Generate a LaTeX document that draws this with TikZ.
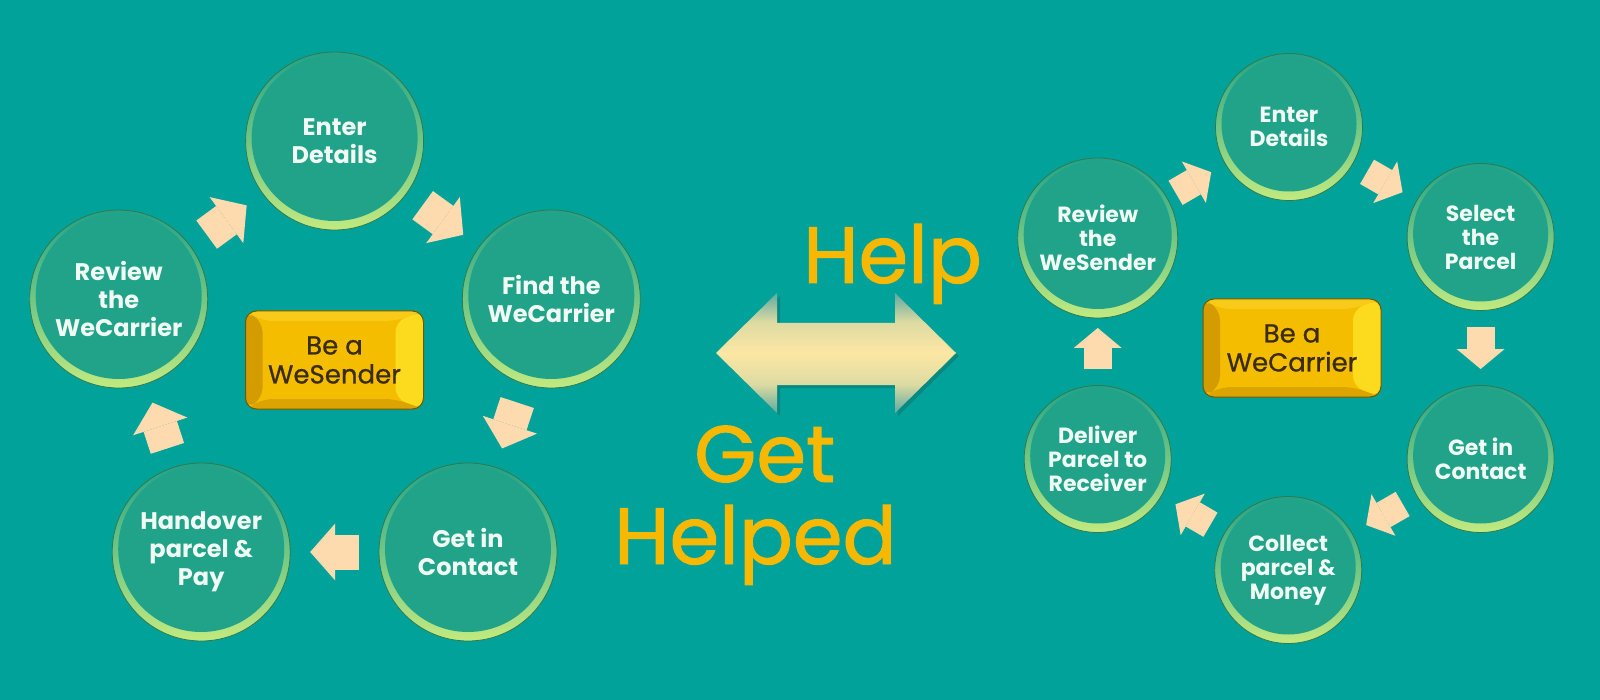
\documentclass[tikz,border=0pt]{standalone}
\usepackage{fontspec}
\setmainfont{Poppins}
\usepackage{xcolor}
\usetikzlibrary{arrows.meta,positioning,calc}
\definecolor{sea}{HTML}{01A29A}
\definecolor{disc}{HTML}{21A389}
\definecolor{rimglow}{HTML}{C2EA80}
\definecolor{rimdark}{HTML}{2F7A4E}
\definecolor{cirtext}{HTML}{F0FBF4}
\definecolor{peach}{HTML}{FDDBAE}
\definecolor{gold}{HTML}{F4BD00}
\definecolor{goldL}{HTML}{D49C00}
\definecolor{goldR}{HTML}{FCDA1E}
\definecolor{goldT}{HTML}{F8CB1A}
\definecolor{goldB}{HTML}{DCA400}
\definecolor{boxedge}{HTML}{6E5800}
\definecolor{boxtext}{HTML}{3A2C08}
\definecolor{helpgold}{HTML}{F6B800}
\definecolor{pale}{HTML}{FCE7A3}
\definecolor{fadeteal}{HTML}{5EAAA0}
\definecolor{shadeteal}{HTML}{0B6E68}
\colorlet{midpale}{pale!80!fadeteal}
\pgfdeclareverticalshading{dblshade}{100bp}{color(0bp)=(fadeteal); color(25bp)=(fadeteal);
  color(37bp)=(midpale); color(50bp)=(pale); color(63bp)=(midpale); color(75bp)=(fadeteal); color(100bp)=(fadeteal)}
\tikzset{
  circ/.style={circle, minimum size=#1, inner sep=0pt, draw=rimdark, line width=0.8pt,
    top color=disc, bottom color=rimglow, text=cirtext, align=center,
    path picture={\fill[disc] ([yshift=3pt]path picture bounding box.center) circle[radius=0.5*#1-6pt];}},
  lcirc/.style={circ=178pt, font=\fontsize{24}{28}\selectfont\bfseries},
  rcirc/.style={circ=147pt, font=\fontsize{22}{24}\selectfont\bfseries},
  hub/.style={draw=boxedge, line width=1pt, rounded corners=11pt, minimum width=178pt, minimum height=98pt,
    fill=gold, text=boxtext, align=center,
    font=\fontsize{26}{29}\selectfont\addfontfeatures{FakeBold=0.8},
    path picture={
      \coordinate (onw) at (path picture bounding box.north west);
      \coordinate (ose) at (path picture bounding box.south east);
      \coordinate (fnw) at ([shift={(17pt,-10pt)}]onw);
      \coordinate (fse) at ([shift={(-28pt,10pt)}]ose);
      \fill[goldL] (onw) -- (fnw) -- (fnw |- fse) -- (onw |- ose) -- cycle;
      \fill[goldR] (ose) -- (fse) -- (fse |- fnw) -- (ose |- onw) -- cycle;
      \fill[goldT] (onw) -- (fnw) -- (fse |- fnw) -- (ose |- onw) -- cycle;
      \fill[goldB] (ose) -- (fse) -- (fnw |- fse) -- (onw |- ose) -- cycle;}},
  lflow/.style={peach, line width=35pt, shorten <=109pt, shorten >=109pt,
    -{Triangle[length=25pt, width=57pt, line width=0pt]}},
  rflow/.style={peach, line width=28pt, shorten <=90pt, shorten >=90pt,
    -{Triangle[length=20pt, width=48pt, line width=0pt]}},
  title/.style={text=helpgold, font=\fontsize{80}{80}\selectfont\addfontfeatures{FakeBold=1.2},
    inner sep=0pt, anchor=base west},
}
\begin{document}
\begin{tikzpicture}[x=1pt, y=-1pt]
\fill[sea] (0,0) rectangle (1600,700);
\useasboundingbox (0,0) rectangle (1600,700);
% WeSender cycle
\node[hub] (snd) at (334.5,360) {Be a\\WeSender};
\node[lcirc] (l1) at (334.6,141) {Enter\\Details};
\node[lcirc] (l2) at (551.3,299) {Find the\\WeCarrier};
\node[lcirc] (l3) at (468,552) {Get in\\Contact};
\node[lcirc] (l4) at (201.2,552) {Handover\\parcel \&\\Pay};
\node[lcirc] (l5) at (118.7,299) {Review\\the\\WeCarrier};
\foreach \a/\b in {l5/l1,l1/l2,l2/l3,l3/l4,l4/l5} \draw[lflow] (\a.center) -- (\b.center);
% WeCarrier cycle
\node[hub] (car) at (1292,348) {Be a\\WeCarrier};
\node[rcirc] (r1) at (1289,127) {Enter\\Details};
\node[rcirc] (r2) at (1480.6,237) {Select\\the\\Parcel};
\node[rcirc] (r3) at (1480.6,459) {Get in\\Contact};
\node[rcirc] (r4) at (1288.2,570) {Collect\\parcel \&\\Money};
\node[rcirc] (r5) at (1097.7,459) {Deliver\\Parcel to\\Receiver};
\node[rcirc, circ=160pt] (r6) at (1097.7,238) {Review\\the\\WeSender};
\foreach \a/\b in {r6/r1,r1/r2,r2/r3,r3/r4,r4/r5,r5/r6} \draw[rflow] (\a.center) -- (\b.center);
% two-way arrow and titles
\shade[shading=dblshade, preaction={fill=shadeteal, opacity=.45, transform canvas={shift={(3pt,-3pt)}}}]
  (716,353) -- (777,293) -- (777,323) -- (895,323) -- (895,293) -- (956,353)
  -- (895,413) -- (895,385) -- (777,385) -- (777,413) -- cycle;
\node[title] (hlp) at (803,283) {Help};
\node[title] (get) at (694,482) {Get};
\node[title] (hlpd) at (614,564) {Helped};
\end{tikzpicture}
\end{document}
